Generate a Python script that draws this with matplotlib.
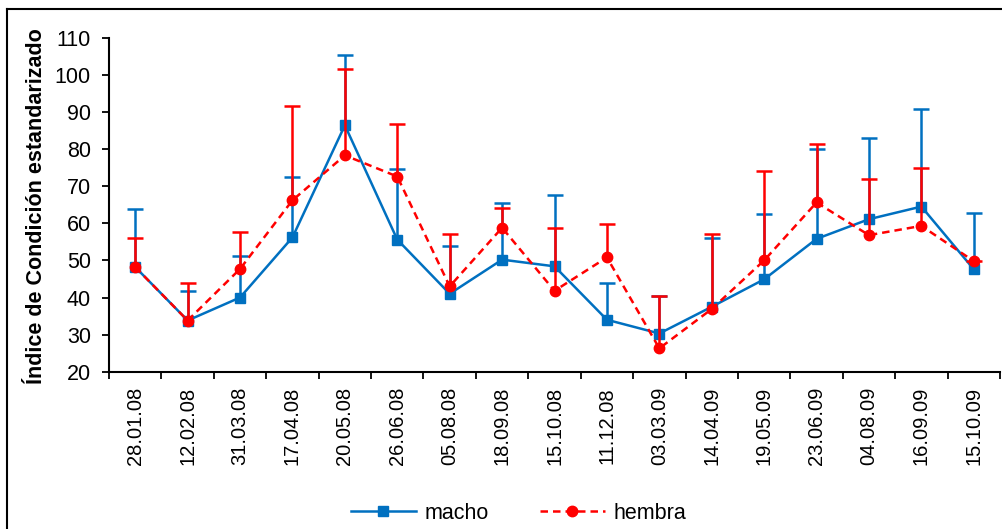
import numpy as np
import matplotlib.pyplot as plt
from matplotlib.lines import Line2D

plt.rcParams['font.family'] = ['Liberation Sans', 'DejaVu Sans']

fechas = ['28.01.08', '12.02.08', '31.03.08', '17.04.08', '20.05.08', '26.06.08',
          '05.08.08', '18.09.08', '15.10.08', '11.12.08', '03.03.09', '14.04.09',
          '19.05.09', '23.06.09', '04.08.09', '16.09.09', '15.10.09']

# valores medios
macho = [48.2, 33.8, 40.0, 56.2, 86.4, 55.6, 41.0, 50.2, 48.4, 34.0, 30.3, 37.5,
         44.9, 55.8, 61.1, 64.5, 47.6]
hembra = [48.2, 33.8, 47.7, 66.2, 78.3, 72.6, 43.0, 58.8, 41.8, 50.8, 26.3, 36.9,
          50.0, 65.6, 56.8, 59.3, 49.8]

# extremo superior de la barra de error
macho_sup = [63.9, 41.8, 51.2, 72.5, 105.4, 74.6, 53.9, 65.4, 67.6, 43.8, 40.5, 56.0,
             62.4, 79.9, 83.0, 90.9, 62.9]
hembra_sup = [56.0, 43.8, 57.6, 91.5, 101.6, 86.7, 57.1, 64.0, 58.6, 59.8, 40.5, 57.2,
              74.0, 81.4, 71.9, 75.0, 49.8]

azul = '#0070C0'
rojo = '#FF0000'

fig = plt.figure(figsize=(10.03, 5.29), dpi=100)
ax = fig.add_axes([0.1087, 0.2973, 0.8883, 0.6314])

x = np.arange(len(fechas))


def serie(valores, sup, color, ls, marker, ms, z):
    err = [np.zeros(len(x)), np.array(sup) - np.array(valores)]
    eb = ax.errorbar(x, valores, yerr=err, fmt='none', ecolor=color, capsize=6,
                     capthick=1.8, elinewidth=1.8, zorder=z)
    eb[1][0].set_visible(False)  # sin tapa inferior
    ax.plot(x, valores, color=color, lw=1.8, ls=ls, marker=marker, ms=ms, zorder=z + 0.5)


serie(macho, macho_sup, azul, '-', 's', 7, 2)
serie(hembra, hembra_sup, rojo, (0, (3, 2)), 'o', 7.5, 3)

ax.set_xlim(-0.5, len(fechas) - 0.5)
ax.set_ylim(20, 110)
ax.set_yticks(range(20, 111, 10))
ax.set_xticks(x)
ax.set_xticklabels(fechas, rotation=90, fontsize=14.5)
ax.tick_params(axis='x', length=0, pad=11)
ax.set_xticks(np.arange(-0.5, len(fechas), 1), minor=True)
ax.tick_params(axis='x', which='minor', length=5, width=1.3, direction='out')
ax.tick_params(axis='y', labelsize=15.5, length=5, width=1.3, direction='out', pad=8)

for s in ['top', 'right']:
    ax.spines[s].set_visible(False)
for s in ['left', 'bottom']:
    ax.spines[s].set_linewidth(1.5)

ax.set_ylabel('Índice de Condición estandarizado', fontsize=15.5, fontweight='bold')
ax.yaxis.set_label_coords(-0.070, 0.497)

h_m = Line2D([], [], color=azul, lw=1.8, marker='s', ms=7)
h_h = Line2D([], [], color=rojo, lw=1.8, ls=(0, (3, 2)), marker='o', ms=7.5)
fig.legend([h_m, h_h], ['macho', 'hembra'], loc='center', bbox_to_anchor=(0.517, 0.03),
           ncol=2, frameon=False, fontsize=15.5, handlelength=3.0, handletextpad=0.4,
           columnspacing=2.4)

# marco del gráfico
fig.add_artist(Line2D([0.007, 0.007], [0, 1 - 9 / 529], color='black', lw=1.5,
                      transform=fig.transFigure))
fig.add_artist(Line2D([0.007, 1], [1 - 9 / 529, 1 - 9 / 529], color='black', lw=1.5,
                      transform=fig.transFigure))

fig.savefig('out.png', dpi=100)
